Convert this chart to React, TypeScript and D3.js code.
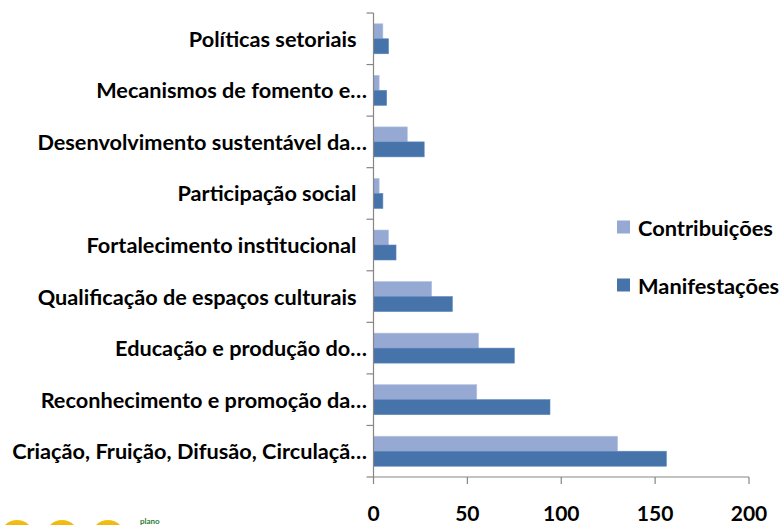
import React from "react";
import * as d3 from "d3";

const categories = [
  "Políticas setoriais  ",
  "Mecanismos de fomento e…",
  "Desenvolvimento sustentável da…",
  "Participação social  ",
  "Fortalecimento institucional  ",
  "Qualificação de espaços culturais  ",
  "Educação e produção do…",
  "Reconhecimento e promoção da…",
  "Criação, Fruição, Difusão, Circulaçã…",
];
const series = ["Contribuições", "Manifestações"];
const contribuicoes = [5, 3, 18, 3, 8, 31, 56, 55, 130];
const manifestacoes = [8, 7, 27, 5, 12, 42, 75, 94, 156];
const xTicks = [0, 50, 100, 150, 200];

const colors: Record<string, string> = {
  "Contribuições": "#95A9D3",
  "Manifestações": "#4674AA",
};

const W = 783;
const H = 525;
const FONT = "Lato, 'Open Sans', sans-serif";

export default function App() {
  const x = d3.scaleLinear().domain([0, 200]).range([373.5, 749]);
  const y = d3.scaleBand<string>().domain(categories).range([13, 477]);
  const sub = d3
    .scaleBand<string>()
    .domain(series)
    .range([0, y.bandwidth()])
    .paddingInner(0)
    .paddingOuter(0.72);
  const values: Record<string, number[]> = {
    "Contribuições": contribuicoes,
    "Manifestações": manifestacoes,
  };
  const axisColor = "#868686";
  const boundaries = categories.map((c) => y(c) as number).concat([y.range()[1]]);
  const x0 = x(0);
  const yBottom = y.range()[1];

  return (
    <svg
      width={W}
      height={H}
      style={{ position: "absolute", left: 0, top: 0, background: "#fff" }}
      fontFamily={FONT}
    >
      <defs>
        <linearGradient id="logoGrad" x1="0" y1="0" x2="0" y2="1">
          <stop offset="0%" stopColor="#F4C20D" />
          <stop offset="35%" stopColor="#E9A820" />
          <stop offset="60%" stopColor="#6BAE3A" />
          <stop offset="100%" stopColor="#2E8B3A" />
        </linearGradient>
      </defs>
      <rect x={0} y={0} width={W} height={H} fill="#fff" />

      {/* bars */}
      {series.map((s) =>
        categories.map((c, i) => (
          <rect
            key={s + i}
            x={x0}
            y={(y(c) as number) + (sub(s) as number)}
            width={x(values[s][i]) - x0}
            height={sub.bandwidth()}
            fill={colors[s]}
            stroke={s === "Contribuições" ? "#B4C3E2" : "#5B86BA"}
            strokeWidth={0.6}
          />
        ))
      )}

      {/* left axis */}
      <line x1={x0} x2={x0} y1={y.range()[0]} y2={yBottom} stroke={axisColor} strokeWidth={1.2} />
      {boundaries.map((b, i) => (
        <line key={"lt" + i} x1={x0 - 7} x2={x0} y1={b} y2={b} stroke={axisColor} strokeWidth={1.2} />
      ))}

      {/* bottom axis */}
      <line x1={x0} x2={x(200)} y1={yBottom} y2={yBottom} stroke={axisColor} strokeWidth={1.2} />
      {xTicks.map((t) => (
        <g key={"bt" + t}>
          <line x1={x(t)} x2={x(t)} y1={yBottom} y2={yBottom + 7} stroke={axisColor} strokeWidth={1.2} />
          <text
            x={x(t)}
            y={512.5}
            textAnchor="middle"
            dominantBaseline="central"
            fontSize={21}
            fontWeight="bold"
            fill="#000"
          >
            {t}
          </text>
        </g>
      ))}

      {/* category labels */}
      {categories.map((c) => (
        <text
          key={"lab" + c}
          x={367}
          y={(y(c) as number) + y.bandwidth() / 2}
          textAnchor="end"
          dominantBaseline="central"
          fontSize={21.7}
          fontWeight="bold"
          fill="#000"
          style={{ whiteSpace: "pre" }}
        >
          {c}
        </text>
      ))}

      {/* legend */}
      {series.map((s, i) => (
        <g key={"lg" + s} transform={`translate(617, ${227 + i * 58})`}>
          <rect x={0} y={-6.5} width={13} height={13} fill={colors[s]} />
          <text x={21} y={0} dominantBaseline="central" fontSize={21.8} fontWeight="bold" fill="#000">
            {s}
          </text>
        </g>
      ))}

      {/* partial logo at bottom-left */}
      {[17, 62, 108].map((cx) => (
        <circle key={"lc" + cx} cx={cx} cy={537} r={17} fill="url(#logoGrad)" />
      ))}
      <text x={140} y={524} fontSize={8} fill="#2E7D32" fontWeight="bold">
        plano
      </text>
    </svg>
  );
}
